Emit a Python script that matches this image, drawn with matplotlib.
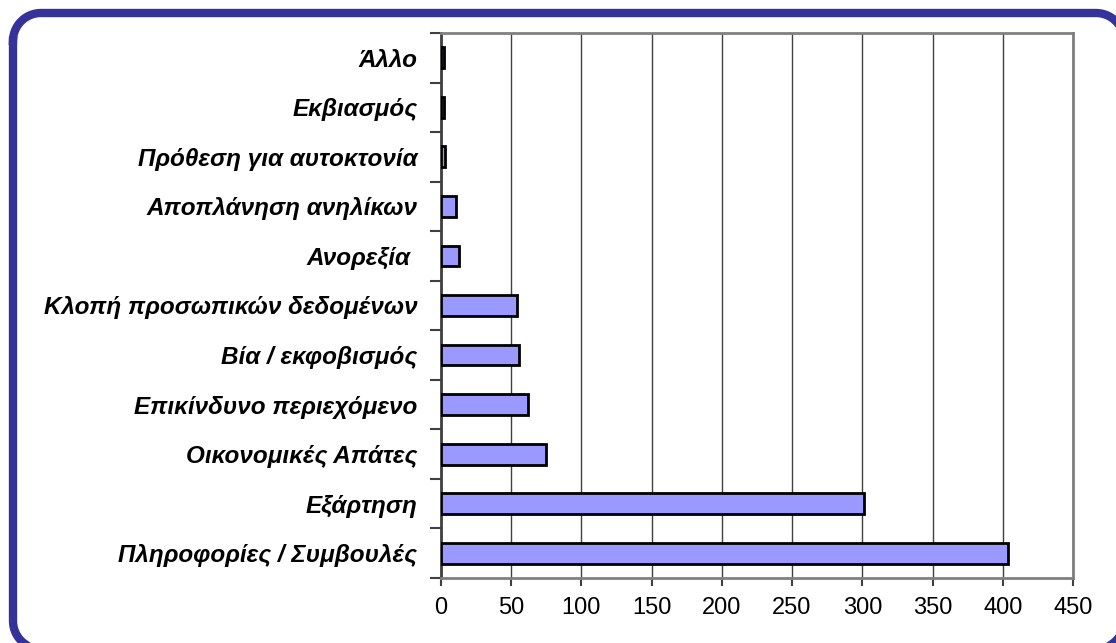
import numpy as np
import matplotlib.pyplot as plt

categories = ['Πληροφορίες / Συμβουλές', 'Εξάρτηση', 'Οικονομικές Απάτες',
              'Επικίνδυνο περιεχόμενο', 'Βία / εκφοβισμός',
              'Κλοπή προσωπικών δεδομένων', 'Ανορεξία ', 'Αποπλάνηση ανηλίκων',
              'Πρόθεση για αυτοκτονία', 'Εκβιασμός', 'Άλλο']
values = [404, 301, 75, 62, 56, 54, 13, 11, 3, 2, 2]
xticks = [0, 50, 100, 150, 200, 250, 300, 350, 400, 450]

plt.rcParams['font.family'] = ['Liberation Sans', 'DejaVu Sans']

fig = plt.figure(figsize=(11.16, 6.43), dpi=100)
ax = fig.add_axes([0.395, 0.1011, 0.9615 - 0.395, 0.9487 - 0.1011])

pos = list(range(len(categories)))
ax.barh(pos, values, height=0.42, color='#9999FF', edgecolor='black', linewidth=2, zorder=3)

ax.set_xlim(0, 450)
ax.set_ylim(-0.5, len(categories) - 0.5)
ax.set_xticks(xticks)
ax.set_xticklabels([str(t) for t in xticks], fontsize=17)
ax.set_yticks(pos)
ax.set_yticklabels(categories, fontsize=17.5, fontweight='bold', fontstyle='italic')
ax.tick_params(axis='y', which='major', length=0, pad=17)
ax.set_yticks([p - 0.5 for p in range(len(categories) + 1)], minor=True)
ax.tick_params(axis='y', which='minor', length=8, width=1.5, color='#404040')
ax.tick_params(axis='x', length=6, width=1.5, color='#404040', pad=8)

ax.grid(axis='x', color='#404040', lw=1, zorder=0)
for s in ['top', 'right', 'bottom']:
    ax.spines[s].set_color('#808080')
    ax.spines[s].set_linewidth(2)
ax.spines['left'].set_color('#404040')
ax.spines['left'].set_linewidth(2)

# rounded frame round the chart, drawn on a full-figure axes in pixel units
bg = fig.add_axes([0, 0, 1, 1], zorder=-1)
bg.set_xlim(0, 1116)
bg.set_ylim(643, 0)
bg.axis('off')
r = 28
left, right, top, bottom = 13, 1124, 13, 649
xs, ys = [], []
corners = [(left + r, top + r, 180, 270), (right - r, top + r, 270, 360),
           (right - r, bottom - r, 0, 90), (left + r, bottom - r, 90, 180)]
for cx, cy, a0, a1 in corners:
    t = np.radians(np.linspace(a0, a1, 20))
    xs += list(cx + r * np.cos(t))
    ys += list(cy + r * np.sin(t))
xs.append(xs[0])
ys.append(ys[0])
bg.plot(xs, ys, color='#333399', lw=6, solid_joinstyle='round', clip_on=False)

fig.savefig('out.png', dpi=100)
